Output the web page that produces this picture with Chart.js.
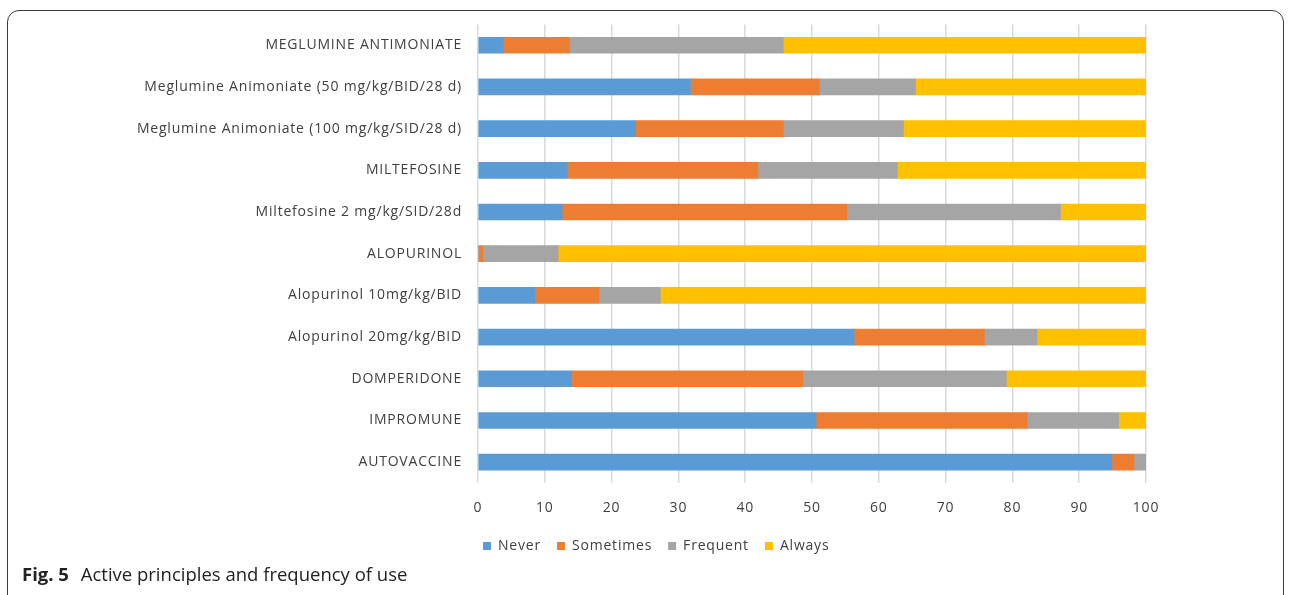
<!DOCTYPE html>
<html>
<head>
<meta charset="utf-8">
<script src="https://cdn.jsdelivr.net/npm/chart.js@4"></script>
<style>
  html, body { margin: 0; padding: 0; background: #fff; }
  body { width: 1290px; height: 595px; position: relative; overflow: hidden; }
  .frame {
    position: absolute; left: 7px; top: 10px; width: 1277px; height: 600px;
    border: 1px solid #3c3c3c; border-radius: 12px; box-sizing: border-box;
  }
  #wrap { position: absolute; left: 0; top: 0; width: 1290px; height: 595px; }
  .caption {
    position: absolute; left: 22px; top: 561px;
    font-family: "Open Sans", "Noto Sans", sans-serif; font-size: 18.5px; color: #222;
    white-space: nowrap;
  }
  .caption b { font-weight: 700; margin-right: 7px; }
</style>
</head>
<body>
<div class="frame"></div>
<div id="wrap"><canvas id="c" width="1290" height="595"></canvas></div>
<div class="caption"><b>Fig. 5</b> Active principles and frequency of use</div>
<script>
// Treatments, listed top to bottom
const categories = [
  "MEGLUMINE ANTIMONIATE",
  "Meglumine Animoniate (50 mg/kg/BID/28 d)",
  "Meglumine Animoniate (100 mg/kg/SID/28 d)",
  "MILTEFOSINE",
  "Miltefosine 2 mg/kg/SID/28d",
  "ALOPURINOL",
  "Alopurinol 10mg/kg/BID",
  "Alopurinol 20mg/kg/BID",
  "DOMPERIDONE",
  "IMPROMUNE",
  "AUTOVACCINE"
];

// Percentage of answers for each frequency of use
const never     = [3.8, 31.8, 23.6, 13.4, 12.6, 0.0,  8.5, 56.3, 14.0, 50.6, 94.9];
const sometimes = [9.9, 19.3, 22.1, 28.5, 42.6, 0.7,  9.6, 19.5, 34.6, 31.6,  3.3];
const frequent  = [32.0, 14.4, 18.0, 20.9, 32.0, 11.3, 9.2, 7.9, 30.5, 13.7,  1.8];
const always    = [54.3, 34.5, 36.3, 37.2, 12.8, 88.0, 72.7, 16.3, 20.9, 4.1,  0.0];

const xTicks = [0, 10, 20, 30, 40, 50, 60, 70, 80, 90, 100];

const seriesNames = ["Never", "Sometimes", "Frequent", "Always"];
const seriesColors = ["#5b9bd5", "#ed7d31", "#a5a5a5", "#ffc000"];
const seriesValues = [never, sometimes, frequent, always];

const labelFont = { family: "'Open Sans', 'Noto Sans', sans-serif", size: 14 };

// Slightly open letter spacing for all canvas text
const spacedText = {
  id: 'spacedText',
  beforeInit(chart) { chart.ctx.letterSpacing = '0.8px'; },
  beforeDraw(chart) { chart.ctx.letterSpacing = '0.8px'; }
};

// Shift the legend so it sits centred under the whole plot block
const legendShift = {
  id: 'legendShift',
  afterLayout(chart) {
    const lg = chart.legend;
    const d = 72;
    lg.left += d; lg.right += d;
  }
};

new Chart(document.getElementById('c'), {
  type: 'bar',
  data: {
    labels: categories,
    datasets: seriesNames.map((name, i) => ({
      label: name,
      data: seriesValues[i],
      backgroundColor: seriesColors[i],
      borderWidth: 0,
      barThickness: 16
    }))
  },
  options: {
    indexAxis: 'y',
    responsive: false,
    animation: false,
    layout: { padding: { top: 24, left: 0, right: 144, bottom: 32 } },
    scales: {
      x: {
        stacked: true,
        min: 0, max: 100,
        afterBuildTicks(scale) { scale.ticks = xTicks.map(v => ({ value: v })); },
        afterFit(scale) { scale.height = 40; },
        grid: { color: '#d9d9d9', lineWidth: 1.5, drawTicks: false },
        border: { display: false },
        ticks: { padding: 17, color: '#404040', font: labelFont }
      },
      y: {
        stacked: true,
        afterFit(scale) { scale.width = 478; },
        grid: { display: false, drawTicks: false },
        border: { display: false },
        ticks: { padding: 16, color: '#404040', font: labelFont, autoSkip: false }
      }
    },
    plugins: {
      tooltip: { enabled: false },
      legend: {
        position: 'bottom',
        labels: {
          boxWidth: 8, boxHeight: 8, padding: 16,
          color: '#404040', font: labelFont
        }
      }
    }
  },
  plugins: [spacedText, legendShift]
});
</script>
</body>
</html>
